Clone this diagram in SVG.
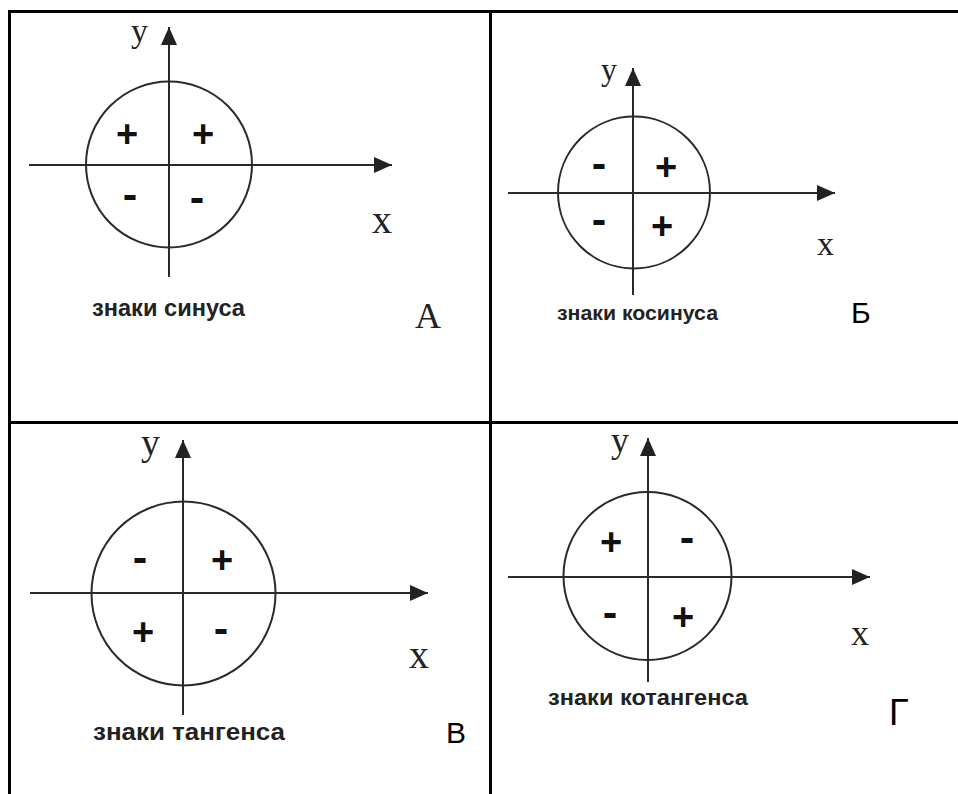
<svg xmlns="http://www.w3.org/2000/svg" width="958" height="794" viewBox="0 0 958 794">
<style>
.frame{stroke:#000;stroke-width:3;fill:none}
.ax{stroke:#2a2a2a;stroke-width:2;fill:none}
.circ{stroke:#2a2a2a;stroke-width:2;fill:none}
.plus{font-family:"Liberation Sans",Arial,sans-serif;font-weight:bold;font-size:38px;fill:#111;text-anchor:middle}
.minus{font-family:"DejaVu Sans",sans-serif;font-weight:bold;font-size:36px;fill:#111;text-anchor:middle}
.axl{font-family:"Liberation Serif","Times New Roman",serif;fill:#222}
.cap{font-family:"Liberation Sans",Arial,sans-serif;font-weight:bold;fill:#222}
.let{font-family:"Liberation Sans",Arial,sans-serif;fill:#000}
</style>
<defs>
<marker id="arr" markerUnits="userSpaceOnUse" markerWidth="19" markerHeight="16" refX="18" refY="8" orient="auto" viewBox="0 0 19 16">
<path d="M0,0 L18,8 L0,16 Z" fill="#222"/>
</marker>
</defs>
<rect width="958" height="794" fill="#fff"/>
<g id="frame">
<line class="frame" x1="8" y1="11.5" x2="958" y2="11.5"/>
<line class="frame" x1="9.5" y1="10" x2="9.5" y2="794"/>
<line class="frame" x1="490.5" y1="10" x2="490.5" y2="794"/>
<line class="frame" x1="8" y1="422.5" x2="958" y2="422.5"/>
</g>
<g id="connectors">
<line class="ax" x1="169" y1="277" x2="169" y2="27" marker-end="url(#arr)"/>
<line class="ax" x1="29" y1="165" x2="392" y2="165" marker-end="url(#arr)"/>
<line class="ax" x1="633" y1="295" x2="633" y2="68" marker-end="url(#arr)"/>
<line class="ax" x1="508" y1="193" x2="835" y2="193" marker-end="url(#arr)"/>
<line class="ax" x1="183" y1="715" x2="183" y2="440" marker-end="url(#arr)"/>
<line class="ax" x1="30" y1="593" x2="428" y2="593" marker-end="url(#arr)"/>
<line class="ax" x1="648" y1="682" x2="648" y2="438" marker-end="url(#arr)"/>
<line class="ax" x1="508" y1="577" x2="870" y2="577" marker-end="url(#arr)"/>
</g>
<g id="sin">
<circle class="circ" cx="169" cy="164.5" r="83"/>
<text class="axl" x="131" y="42" font-size="34">y</text>
<text class="axl" x="372" y="233" font-size="40">x</text>
<text class="plus" x="127" y="147">+</text>
<text class="plus" x="203" y="147">+</text>
<text class="minus" x="130" y="208">-</text>
<text class="minus" x="197" y="211">-</text>
<text class="cap" x="92" y="316" font-size="23" textLength="153" lengthAdjust="spacingAndGlyphs">знаки синуса</text>
<text class="axl" x="415" y="328" font-size="36" fill="#000">А</text>
</g>
<g id="cos">
<circle class="circ" cx="634" cy="192.5" r="76"/>
<text class="axl" x="601" y="80" font-size="32">y</text>
<text class="axl" x="817" y="255" font-size="34">x</text>
<text class="minus" x="599" y="177">-</text>
<text class="plus" x="666" y="180">+</text>
<text class="minus" x="599" y="233">-</text>
<text class="plus" x="662" y="239">+</text>
<text class="cap" x="557" y="320" font-size="20" textLength="161" lengthAdjust="spacingAndGlyphs">знаки косинуса</text>
<text class="let" x="851" y="323" font-size="30">Б</text>
</g>
<g id="tan">
<circle class="circ" cx="183.5" cy="593.5" r="92"/>
<text class="axl" x="141" y="455" font-size="38">y</text>
<text class="axl" x="409" y="668" font-size="40">x</text>
<text class="minus" x="140" y="571">-</text>
<text class="plus" x="222" y="573">+</text>
<text class="plus" x="143" y="645">+</text>
<text class="minus" x="221" y="642">-</text>
<text class="cap" x="93" y="740" font-size="24" textLength="192" lengthAdjust="spacingAndGlyphs">знаки тангенса</text>
<text class="let" x="446" y="743" font-size="30">В</text>
</g>
<g id="cot">
<circle class="circ" cx="647.5" cy="576" r="84"/>
<text class="axl" x="611" y="452" font-size="36">y</text>
<text class="axl" x="851" y="645" font-size="36">x</text>
<text class="plus" x="611" y="555">+</text>
<text class="minus" x="687" y="551">-</text>
<text class="minus" x="610" y="626">-</text>
<text class="plus" x="683" y="630">+</text>
<text class="cap" x="548" y="705" font-size="22" textLength="200" lengthAdjust="spacingAndGlyphs">знаки котангенса</text>
<text class="let" x="889" y="725" font-size="36">Г</text>
</g>
</svg>
